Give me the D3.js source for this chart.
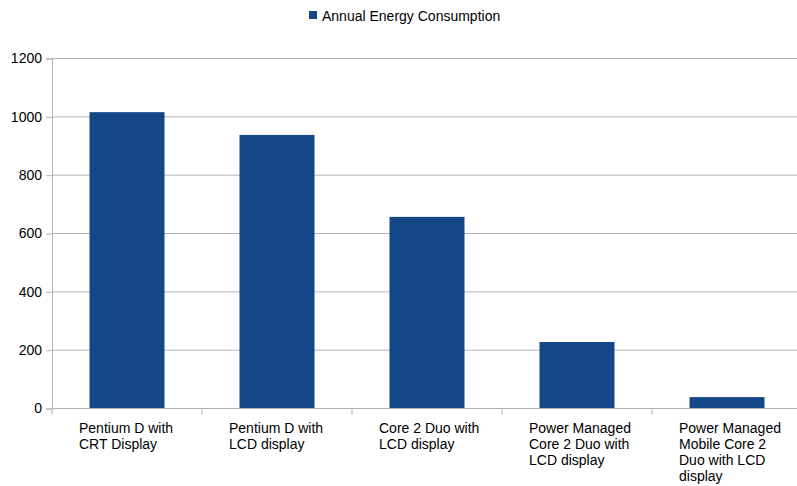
<!DOCTYPE html>
<html>
<head>
<meta charset="utf-8">
<script src="https://cdn.jsdelivr.net/npm/d3@7"></script>
<style>
  body { margin: 0; background: #fff; }
  text { font-family: "Liberation Sans", Arial, sans-serif; fill: #000; }
</style>
</head>
<body>
<div id="chart"></div>
<script>
// chart data
var categories = [
  "Pentium D with\nCRT Display",
  "Pentium D with\nLCD display",
  "Core 2 Duo with\nLCD display",
  "Power Managed\nCore 2 Duo with\nLCD display",
  "Power Managed\nMobile Core 2\nDuo with LCD\ndisplay"
];
var energy = [1016, 938, 657, 228, 39];
var yTicks = [0, 200, 400, 600, 800, 1000, 1200];
var seriesName = "Annual Energy Consumption";

var svgWidth = 797;
var svgHeight = 486;

var margin = { top: 58.5, right: -5, bottom: 77.5, left: 52 };
var width = svgWidth - margin.left - margin.right;
var height = svgHeight - margin.top - margin.bottom;

var svg = d3.select("#chart")
  .append("svg")
  .attr("width", svgWidth)
  .attr("height", svgHeight);

var chartGroup = svg.append("g")
  .attr("transform", `translate(${margin.left}, ${margin.top})`);

var xScale = d3.scaleBand()
  .domain(categories)
  .range([0, width])
  .paddingInner(0.5)
  .paddingOuter(0.25);

var xBand = d3.scaleBand()
  .domain(categories)
  .range([0, width]);

var yScale = d3.scaleLinear()
  .domain([0, 1200])
  .range([height, 0]);

// gridlines
chartGroup.append("g")
  .selectAll("line")
  .data(yTicks)
  .enter()
  .append("line")
  .attr("x1", 0)
  .attr("x2", width)
  .attr("y1", d => yScale(d))
  .attr("y2", d => yScale(d))
  .attr("stroke", "#b3b3b3")
  .attr("stroke-width", 1);

// y axis
var yAxis = chartGroup.append("g")
  .call(d3.axisLeft(yScale).tickValues(yTicks).tickFormat(d3.format("d")).tickSize(6).tickPadding(4));
yAxis.select(".domain").attr("stroke", "#b3b3b3");
yAxis.selectAll(".tick line").attr("stroke", "#b3b3b3");
yAxis.selectAll(".tick text")
  .attr("font-size", "14px")
  .attr("font-family", "Liberation Sans, Arial, sans-serif")
  .attr("fill", "#000");

// bars
chartGroup.selectAll("rect.bar")
  .data(energy)
  .enter()
  .append("rect")
  .attr("class", "bar")
  .attr("x", (d, i) => xScale(categories[i]))
  .attr("width", xScale.bandwidth())
  .attr("y", d => yScale(d))
  .attr("height", d => height - yScale(d))
  .attr("fill", "#134785");

// x axis
var xAxisG = chartGroup.append("g")
  .attr("transform", `translate(0, ${height})`);
xAxisG.append("line")
  .attr("x1", 0).attr("x2", width)
  .attr("stroke", "#b3b3b3");
xAxisG.selectAll("line.tick")
  .data(categories)
  .enter()
  .append("line")
  .attr("class", "tick")
  .attr("x1", d => xBand(d))
  .attr("x2", d => xBand(d))
  .attr("y1", 0)
  .attr("y2", 6)
  .attr("stroke", "#b3b3b3");

var labels = xAxisG.selectAll("text.cat")
  .data(categories)
  .enter()
  .append("text")
  .attr("class", "cat")
  .attr("font-size", "14px")
  .attr("x", d => xBand(d) + 27)
  .attr("y", 24);
labels.each(function(d) {
  var lines = d.split("\n");
  var t = d3.select(this);
  lines.forEach(function(ln, j) {
    t.append("tspan")
      .attr("x", xBand(d) + 27)
      .attr("dy", j === 0 ? 0 : 16)
      .text(ln);
  });
});

// legend
var legend = svg.append("g");
legend.append("rect")
  .attr("x", 309)
  .attr("y", 11)
  .attr("width", 8)
  .attr("height", 8)
  .attr("fill", "#134785");
legend.append("text")
  .attr("x", 322)
  .attr("y", 20.5)
  .attr("font-size", "14px")
  .text(seriesName);
</script>
</body>
</html>
